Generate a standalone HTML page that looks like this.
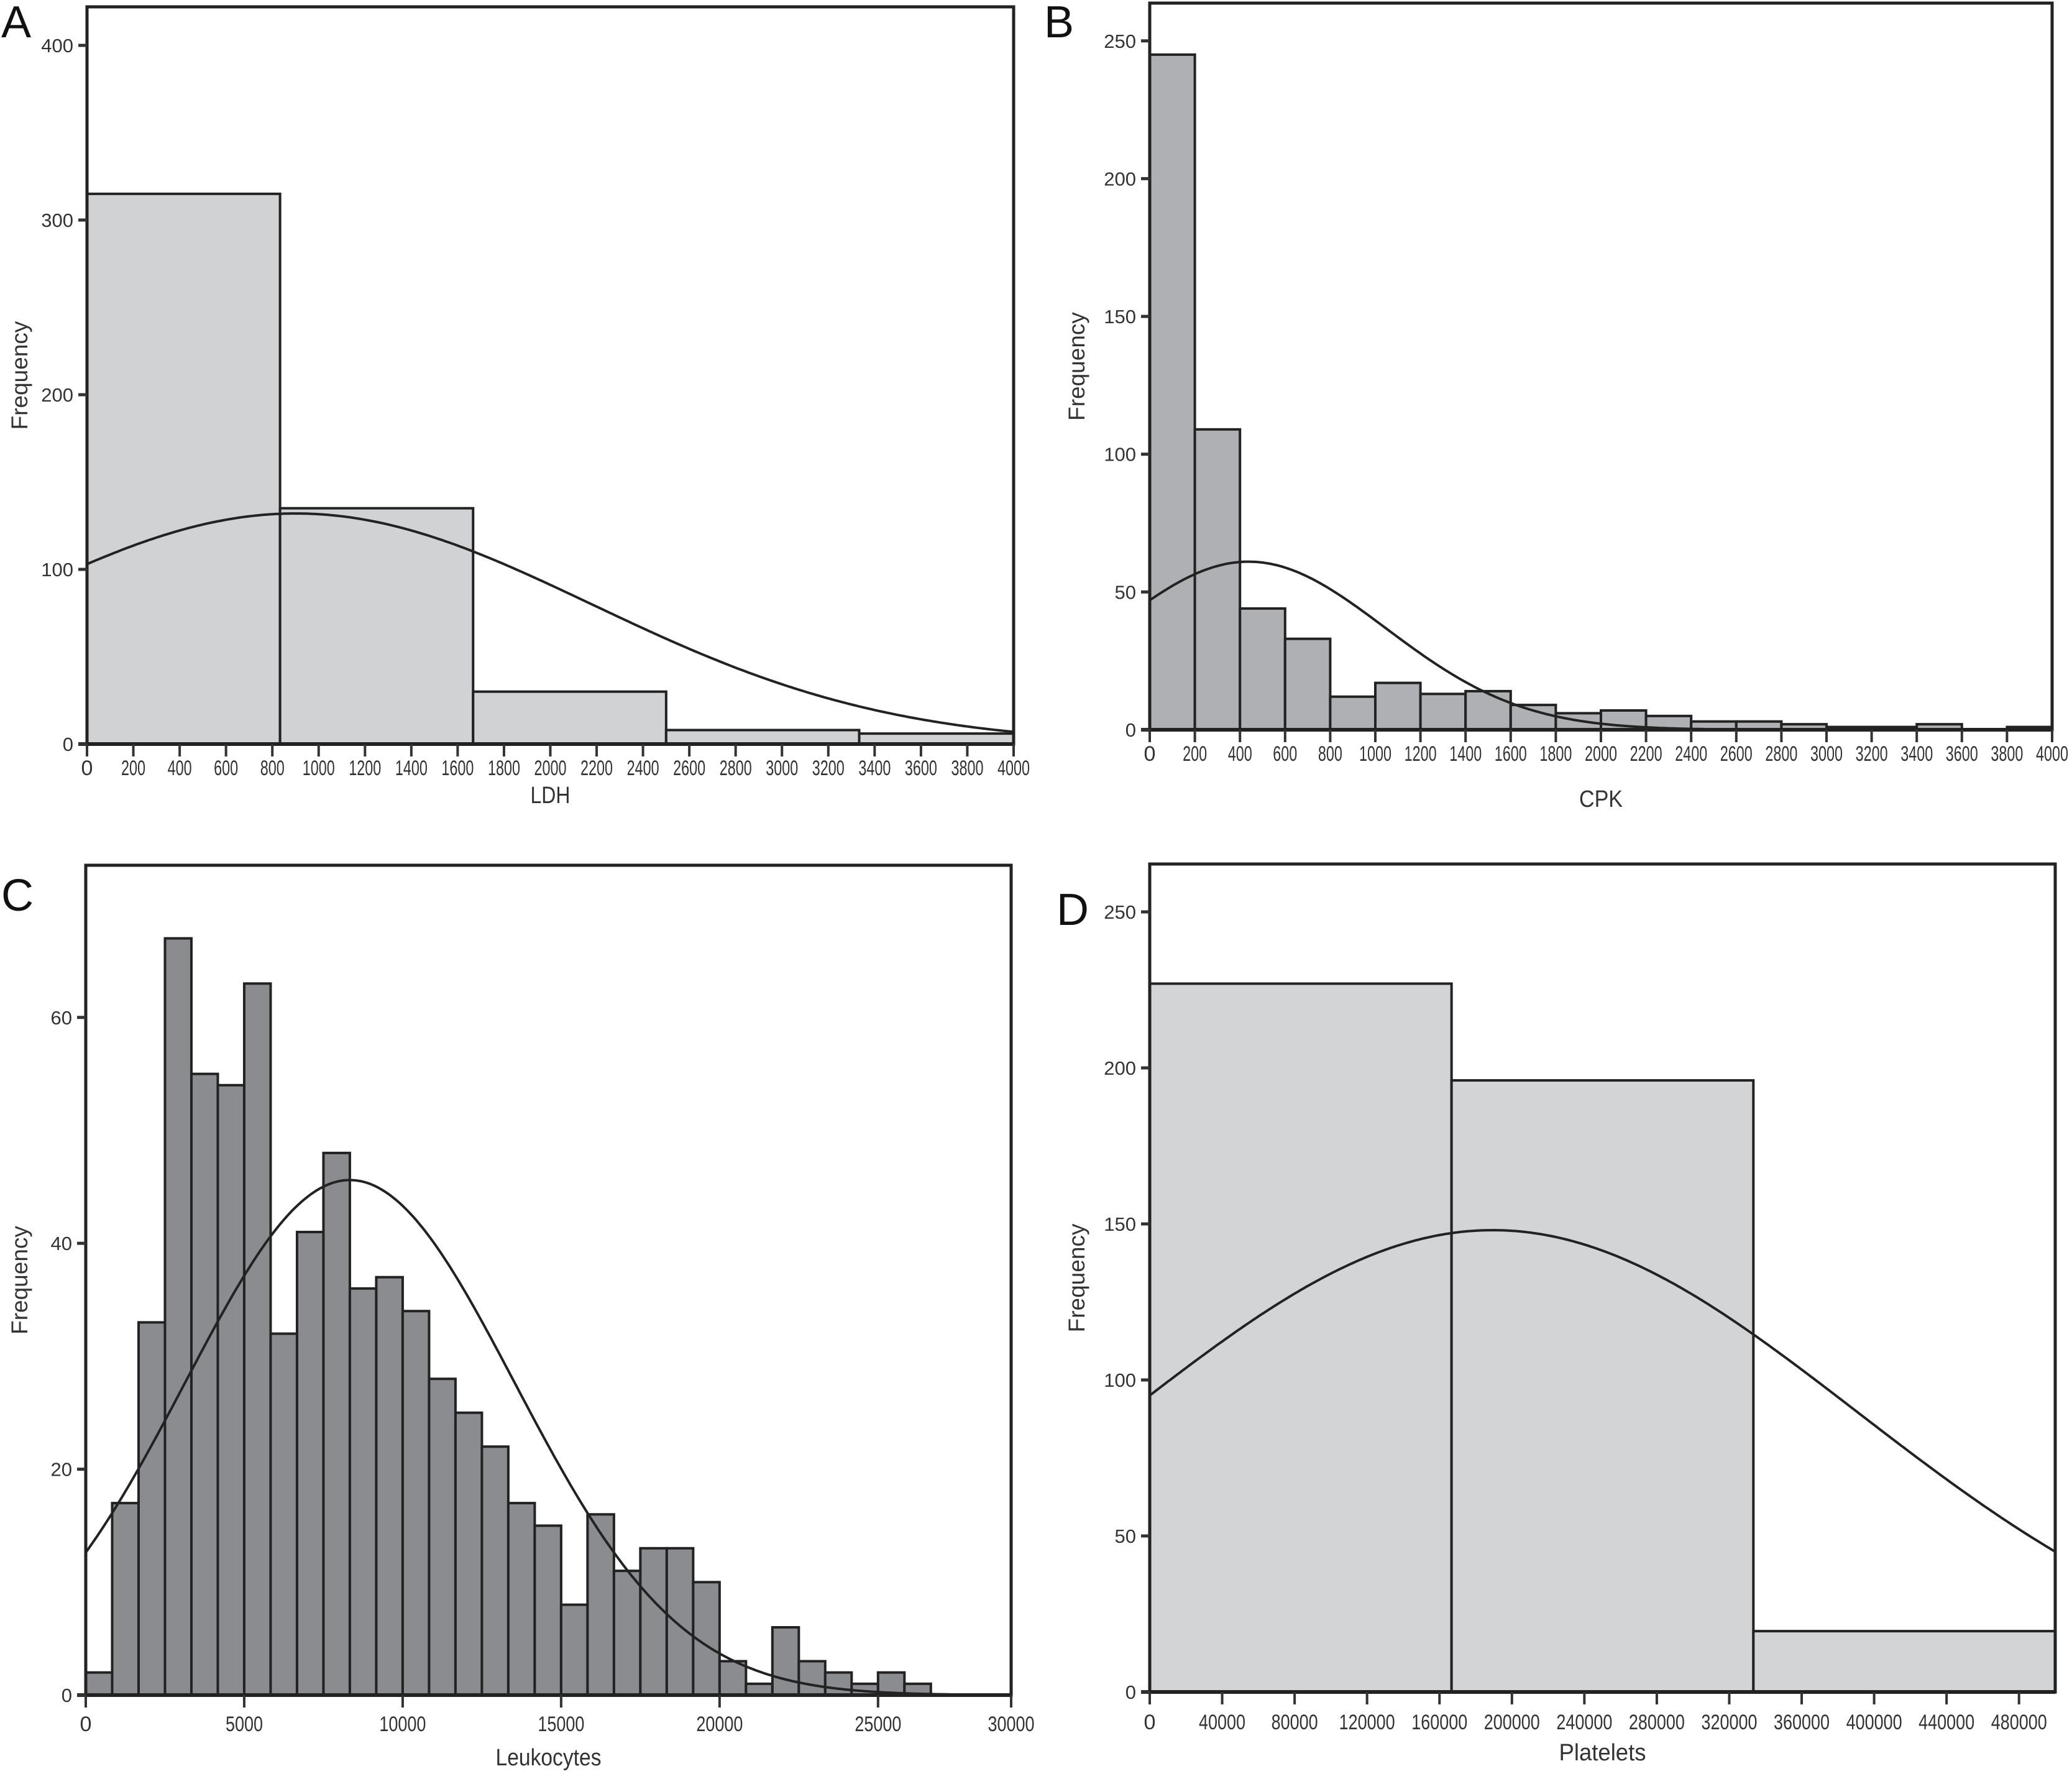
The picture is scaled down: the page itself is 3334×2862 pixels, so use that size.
<!DOCTYPE html>
<html><head><meta charset="utf-8"><style>
html,body{margin:0;padding:0;background:#fff;}
svg{display:block;font-family:"Liberation Sans",Arial,sans-serif;}
</style></head><body>
<svg id="fig" width="3334" height="2862" viewBox="0 0 3334 2862" xmlns="http://www.w3.org/2000/svg">
<rect x="0" y="0" width="3334" height="2862" fill="#fff"/>
</svg>
<script>
// ---- Panel A: LDH ----
const ldhCounts = [315, 135, 30, 8, 6];
const ldhBinWidth = [833.33];
const ldhXTicks = [0,200,400,600,800,1000,1200,1400,1600,1800,2000,2200,2400,2600,2800,3000,3200,3400,3600,3800,4000];
const ldhYTicks = [0,100,200,300,400];
const ldhNormal = [900, 1278, 132]; // mean, sd, peak
// ---- Panel B: CPK ----
const cpkCounts = [245,109,44,33,12,17,13,14,9,6,7,5,3,3,2,1,1,2,0,1];
const cpkBinWidth = [200];
const cpkXTicks = [0,200,400,600,800,1000,1200,1400,1600,1800,2000,2200,2400,2600,2800,3000,3200,3400,3600,3800,4000];
const cpkYTicks = [0,50,100,150,200,250];
const cpkNormal = [438, 606, 61];
// ---- Panel C: Leukocytes ----
const leuCounts = [2,17,33,67,55,54,63,32,41,48,36,37,34,28,25,22,17,15,8,16,11,13,13,10,3,1,6,3,2,1,2,1];
const leuBinWidth = [833.33];
const leuXTicks = [0,5000,10000,15000,20000,25000];
const leuYTicks = [0,20,40,60];
const leuNormal = [8333, 5200, 45.6];
// ---- Panel D: Platelets ----
const pltCounts = [227, 196, 19.5];
const pltBinWidth = [166666.7];
const pltXTicks = [0,40000,80000,120000,160000,200000,240000,280000,320000,360000,400000,440000,480000];
const pltYTicks = [0,50,100,150,200,250];
const pltNormal = [189400, 201200, 148];

const NS = "http://www.w3.org/2000/svg";
const svg = document.getElementById('fig');
function mk(tag, attrs, parent){
  const e = document.createElementNS(NS, tag);
  for (const k in attrs) e.setAttribute(k, attrs[k]);
  (parent||svg).appendChild(e);
  return e;
}

function panel(cfg){
  const g = mk('g', {});
  
  
  const L=cfg.left, R=cfg.right, T=cfg.top, B=cfg.bottom;
  const xs = v => L + (v - cfg.xmin) / (cfg.xmax - cfg.xmin) * (R - L);
  const ys = v => cfg.y0 - v * cfg.ypx;
  cfg.counts.forEach((c,i)=>{
    const x0 = i*cfg.bw[0], x1 = Math.min((i+1)*cfg.bw[0], cfg.xmax);
    const r = mk('rect', {x:xs(x0), y:ys(c), width:xs(x1)-xs(x0), height:cfg.y0-ys(c), fill:cfg.fill, stroke:'#222', 'stroke-width':4}, g);
    
    
  });
  let d='';
  const [m,s,p] = cfg.normal;
  for (let k=0;k<=300;k++){
    const v = cfg.xmin + (cfg.xmax-cfg.xmin)*k/300;
    const f = p*Math.exp(-((v-m)*(v-m))/(2*s*s));
    d += (k?'L':'M') + xs(v).toFixed(1) + ' ' + ys(f).toFixed(1);
  }
  const cv = mk('path', {d:d, fill:'none', stroke:'#222', 'stroke-width':4}, g);
  
  
  const fr = mk('rect', {x:L, y:T, width:R-L, height:B-T, fill:'none', stroke:'#222', 'stroke-width':5}, g);
  
  
  mk('line', {x1:L-14, x2:R, y1:cfg.y0, y2:cfg.y0, stroke:'#222', 'stroke-width':6}, g);
  cfg.yticks.forEach(t=>{
    mk('line', {x1:L-14, x2:L, y1:ys(t), y2:ys(t), stroke:'#333', 'stroke-width':5}, g);
    const tx = mk('text', {x:L-22, y:ys(t)+11, 'font-size':31, fill:'#333', 'text-anchor':'end'}, g);
    tx.textContent = t;
    
    
  });
  cfg.xticks.forEach(t=>{
    const X = xs(t);
    mk('line', {x1:X, x2:X, y1:cfg.y0, y2:cfg.y0+20, stroke:'#333', 'stroke-width':4}, g);
    const str = String(t);
    const attrs = {x:X, y:cfg.y0+cfg.labOff, 'font-size':34, fill:'#333', 'text-anchor':'middle'};
    if (str.length>1){ attrs.textLength = str.length*cfg.charW; attrs.lengthAdjust='spacingAndGlyphs'; }
    const tx = mk('text', attrs, g);
    tx.textContent = str;
    
    
  });
  if (cfg.extraTick){
    mk('line', {x1:R, x2:R, y1:cfg.y0, y2:cfg.y0+20, stroke:'#333', 'stroke-width':4}, g);
    const tx = mk('text', {x:R, y:cfg.y0+cfg.labOff, 'font-size':34, fill:'#333', 'text-anchor':'middle', textLength:cfg.extraTick.length*cfg.charW, lengthAdjust:'spacingAndGlyphs'}, g);
    tx.textContent = cfg.extraTick;
    
    
  }
  const xt = mk('text', {x:(L+R)/2, y:cfg.xTitleY, 'font-size':38, fill:'#333', 'text-anchor':'middle', textLength:cfg.xTitleW, lengthAdjust:'spacingAndGlyphs'}, g);
  xt.textContent = cfg.xTitle;
  
  
  const yt = mk('text', {x:0, y:0, 'font-size':37, fill:'#333', 'text-anchor':'middle', transform:'translate('+(cfg.yTitleX)+','+((T+B)/2)+') rotate(-90)'}, g);
  yt.textContent = 'Frequency';
  
  
  const lb = mk('text', {x:cfg.letterX, y:cfg.letterY, 'font-size':72, fill:'#111'}, g);
  lb.textContent = cfg.letter;
  
  
}

panel({name:'ldh', letter:'A', letterX:2, letterY:60, left:140, right:1631, top:11, bottom:1197, y0:1197, ypx:2.81,
  xmin:0, xmax:4000, counts:ldhCounts, bw:ldhBinWidth, normal:ldhNormal, xticks:ldhXTicks, yticks:ldhYTicks,
  fill:'#d1d2d4', charW:13, labOff:50, xTitle:'LDH', xTitleY:1292, xTitleW:64, yTitleX:44});
panel({name:'cpk', letter:'B', letterX:1680, letterY:60, left:1850, right:3302, top:5, bottom:1174, y0:1174, ypx:4.433,
  xmin:0, xmax:4000, counts:cpkCounts, bw:cpkBinWidth, normal:cpkNormal, xticks:cpkXTicks, yticks:cpkYTicks,
  fill:'#afb0b3', charW:13, labOff:50, xTitle:'CPK', xTitleY:1298, xTitleW:70, yTitleX:1745});
panel({name:'leukocytes', letter:'C', letterX:2, letterY:1465, left:138, right:1627, top:1392, bottom:2727, y0:2727, ypx:18.17,
  xmin:0, xmax:29200, counts:leuCounts, bw:leuBinWidth, normal:leuNormal, xticks:leuXTicks, yticks:leuYTicks,
  fill:'#8b8c90', charW:15, labOff:58, xTitle:'Leukocytes', xTitleY:2840, xTitleW:170, yTitleX:44, extraTick:'30000'});
panel({name:'platelets', letter:'D', letterX:1700, letterY:1488, left:1850, right:3307, top:1390, bottom:2722, y0:2722, ypx:5.02,
  xmin:0, xmax:500000, counts:pltCounts, bw:pltBinWidth, normal:pltNormal, xticks:pltXTicks, yticks:pltYTicks,
  fill:'#d3d4d6', charW:15, labOff:60, xTitle:'Platelets', xTitleY:2832, xTitleW:140, yTitleX:1745});
</script>
</body></html>
